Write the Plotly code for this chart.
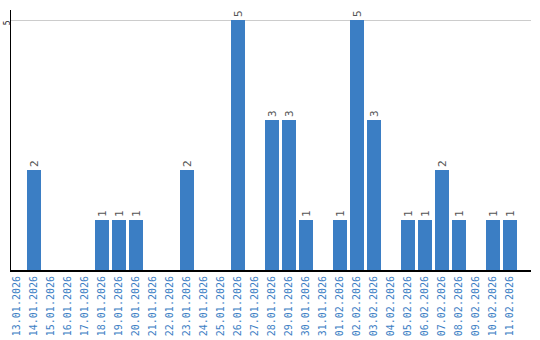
import plotly.graph_objects as go

dates = ["13.01.2026","14.01.2026","15.01.2026","16.01.2026","17.01.2026","18.01.2026",
         "19.01.2026","20.01.2026","21.01.2026","22.01.2026","23.01.2026","24.01.2026",
         "25.01.2026","26.01.2026","27.01.2026","28.01.2026","29.01.2026","30.01.2026",
         "31.01.2026","01.02.2026","02.02.2026","03.02.2026","04.02.2026","05.02.2026",
         "06.02.2026","07.02.2026","08.02.2026","09.02.2026","10.02.2026","11.02.2026"]
counts = [0,2,0,0,0,1,1,1,0,0,2,0,0,5,0,3,3,1,0,1,5,3,0,1,1,2,1,0,1,1]

labels = [str(v) if v > 0 else "" for v in counts]
idx = list(range(len(dates)))

fig = go.Figure(go.Bar(
    x=idx, y=counts, width=0.82,
    marker=dict(color="#3b7ec4", line=dict(width=0)),
    text=labels, textposition="outside", textangle=-90,
    cliponaxis=False,
    textfont=dict(family="DejaVu Sans Mono", size=11, color="#555555"),
))

fig.update_layout(
    width=540, height=340,
    margin=dict(l=11, r=9, t=10, b=70),
    paper_bgcolor="white", plot_bgcolor="white",
    showlegend=False,
    bargap=0,
    xaxis=dict(
        tickmode="array", tickvals=idx, ticktext=dates, tickangle=-90,
        range=[-0.35, 30.24], automargin=False,
        tickfont=dict(family="DejaVu Sans Mono", size=10, color="#3b7ec4"),
        showline=True, linecolor="black", linewidth=2,
        showgrid=False, ticks="", zeroline=False,
    ),
    yaxis=dict(
        range=[0, 5.2], tickvals=[5], ticktext=["5"], tickangle=-90,
        automargin=False,
        tickfont=dict(family="DejaVu Sans Mono", size=8, color="#222222"),
        showline=True, linecolor="black", linewidth=1,
        showgrid=True, gridcolor="#cccccc", gridwidth=1,
        zeroline=False, ticks="", ticklabelstandoff=-3, ticklabelshift=4,
    ),
)

fig.write_html("out.html")
